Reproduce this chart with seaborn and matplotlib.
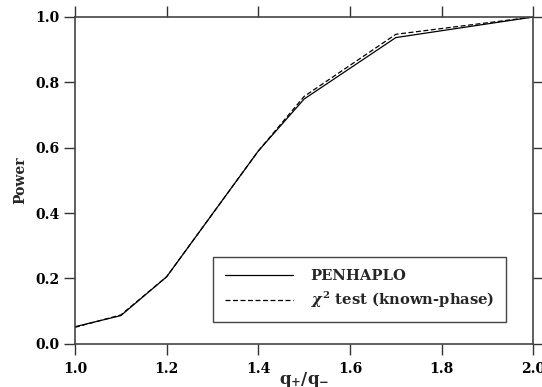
import numpy as np
import pandas as pd
import matplotlib
matplotlib.use("Agg")
import matplotlib.pyplot as plt
import seaborn as sns

# values
ratio = [1.0, 1.1, 1.2, 1.4, 1.5, 1.7, 2.0]
power_penhaplo = [0.052, 0.086, 0.205, 0.590, 0.749, 0.937, 1.0]
power_chi2 = [0.050, 0.088, 0.205, 0.590, 0.757, 0.947, 1.0]
methods = ["PENHAPLO", r"$\chi^2$ test (known-phase)"]

df = pd.DataFrame({
    "ratio": ratio * 2,
    "power": power_penhaplo + power_chi2,
    "method": [methods[0]] * len(ratio) + [methods[1]] * len(ratio),
})

sns.set_style("ticks")
plt.rcParams["font.family"] = ["DejaVu Serif"]
plt.rcParams["font.weight"] = "bold"
plt.rcParams["mathtext.fontset"] = "dejavuserif"

fig = plt.figure(figsize=(5.42, 3.87), dpi=100)
ax = fig.add_axes([0.1384, 0.1119, 0.8456, 0.8442])

sns.lineplot(data=df, x="ratio", y="power", style="method",
             dashes={methods[0]: "", methods[1]: (4, 2)},
             color="black", linewidth=0.9, ax=ax)

ax.set_xlim(1.0, 2.0)
ax.set_ylim(0.0, 1.0)
ax.set_xticks(np.arange(1.0, 2.01, 0.2))
ax.set_yticks(np.arange(0.0, 1.01, 0.2))
ax.set_xticklabels([f"{v:.1f}" for v in np.arange(1.0, 2.01, 0.2)], fontweight="bold")
ax.set_yticklabels([f"{v:.1f}" for v in np.arange(0.0, 1.01, 0.2)], fontweight="bold")
ax.tick_params(direction="out", length=8, width=1, colors="#333333",
               labelcolor="black", labelsize=10, pad=3,
               top=True, right=True)
ax.tick_params(axis="x", pad=5)

for s in ax.spines.values():
    s.set_visible(True)
    s.set_color("#444444")
    s.set_linewidth(1.2)

ax.set_xlabel(r"$\mathbf{q_{+}/q_{-}}$", fontsize=12, labelpad=-4)
ax.set_ylabel("Power", fontsize=10, fontweight="bold", labelpad=6)

leg = ax.legend(loc="lower right", bbox_to_anchor=(0.94, 0.066),
                borderaxespad=0, fancybox=False, edgecolor="#444444",
                framealpha=1, handlelength=4.6, handletextpad=1.2,
                prop={"weight": "bold", "size": 10.6}, borderpad=0.8,
                labelspacing=0.5)
leg.get_frame().set_linewidth(1.0)

fig.savefig("out.png", dpi=100)
